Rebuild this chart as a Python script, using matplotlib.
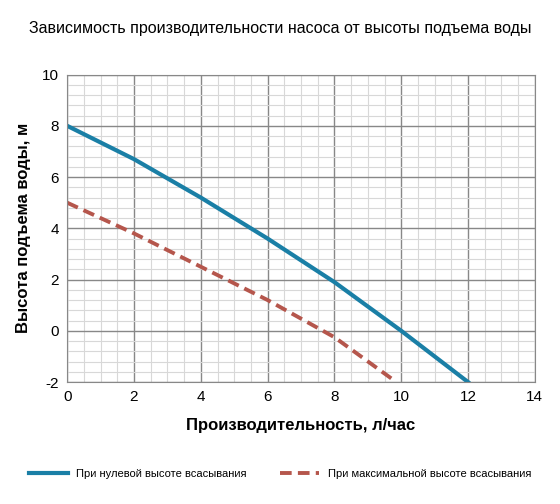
import matplotlib
matplotlib.use("Agg")
import matplotlib.pyplot as plt
from matplotlib.ticker import MultipleLocator

plt.rcParams["font.family"] = ["Liberation Sans", "DejaVu Sans"]
plt.rcParams["axes.unicode_minus"] = False

# flow rate (l/h) vs lift height (m)
zero_x = [0, 2, 4, 6, 8, 10, 12]
zero_y = [8.0, 6.7, 5.2, 3.6, 1.9, 0.0, -2.0]
max_x = [0, 2, 4, 6, 8, 9.8]
max_y = [5.0, 3.8, 2.5, 1.2, -0.25, -1.95]

fig = plt.figure(figsize=(5.6, 5.04), dpi=100)
ax = fig.add_axes([0.12, 0.242, 0.835, 0.61])

ax.plot(zero_x, zero_y, color="#1a7fa6", lw=3, label="При нулевой высоте всасывания")
ax.plot(max_x, max_y, color="#b5564c", lw=2.8, ls=(0, (3, 1.6)), label="При максимальной высоте всасывания")

ax.set_xlim(0, 14)
ax.set_ylim(-2, 10)
ax.xaxis.set_major_locator(MultipleLocator(2))
ax.yaxis.set_major_locator(MultipleLocator(2))
ax.xaxis.set_minor_locator(MultipleLocator(0.5))
ax.yaxis.set_minor_locator(MultipleLocator(0.4))
ax.grid(which="major", color="#888888", lw=1)
ax.grid(which="minor", color="#d8d8d8", lw=0.8)
ax.set_axisbelow(True)
ax.tick_params(which="both", length=0, labelsize=11, pad=6)
for s in ax.spines.values():
    s.set_color("#888888")

ax.set_xlabel("Производительность, л/час", fontsize=12, fontweight="bold", labelpad=10)
ax.set_ylabel("Высота подъема воды, м", fontsize=12, fontweight="bold", labelpad=8)
fig.text(0.5, 0.935, "Зависимость производительности насоса от высоты подъема воды",
         ha="center", fontsize=11.5)
fig.legend(loc="lower center", bbox_to_anchor=(0.5, 0.03), ncol=2, frameon=False,
           fontsize=8, handlelength=3.5, columnspacing=3)

fig.savefig("out.png", dpi=100, facecolor="white")
